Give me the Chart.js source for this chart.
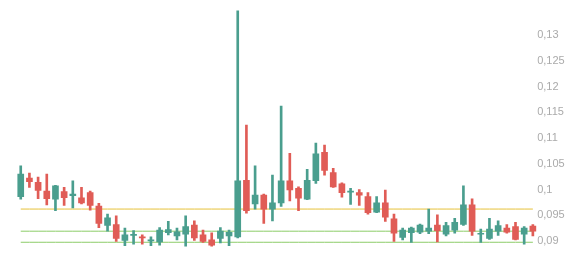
<!DOCTYPE html>
<html>
<head>
<meta charset="utf-8">
<script src="https://cdn.jsdelivr.net/npm/chart.js@4/dist/chart.umd.min.js"></script>
<style>
    html, body { margin: 0; padding: 0; background: #fff; }
    #wrap { width: 584px; height: 258px; }
</style>
</head>
<body>
<div id="wrap"><canvas id="candleChart" width="584" height="258"></canvas></div>
<script>
// OHLC values, one entry per candle
const opens  = [0.0986, 0.1022, 0.1014, 0.0997, 0.0981, 0.0996, 0.0988, 0.0984, 0.0994, 0.0968,
                0.0930, 0.0932, 0.0901, 0.0911, 0.0908, 0.0900, 0.0898, 0.0916, 0.0910, 0.0913,
                0.0931, 0.0912, 0.0902, 0.0905, 0.0910, 0.0908, 0.1018, 0.0972, 0.0989, 0.0962,
                0.0974, 0.1017, 0.1002, 0.0981, 0.1017, 0.1072, 0.1033, 0.1011, 0.0995, 0.0994,
                0.0986, 0.0956, 0.0974, 0.0943, 0.0907, 0.0916, 0.0917, 0.0919, 0.0931, 0.0913,
                0.0921, 0.0932, 0.0970, 0.0913, 0.0905, 0.0919, 0.0925, 0.0928, 0.0913, 0.0929];
const highs  = [0.1046, 0.1032, 0.1024, 0.1030, 0.1008, 0.1004, 0.1017, 0.1004, 0.0997, 0.0973,
                0.0952, 0.0949, 0.0925, 0.0920, 0.0912, 0.0908, 0.0926, 0.0938, 0.0925, 0.0949,
                0.0939, 0.0921, 0.0916, 0.0926, 0.0921, 0.1347, 0.1125, 0.1046, 0.0991, 0.1028,
                0.1162, 0.1070, 0.1005, 0.1039, 0.1090, 0.1086, 0.1041, 0.1013, 0.1002, 0.1000,
                0.0994, 0.0986, 0.0999, 0.0952, 0.0925, 0.0927, 0.0933, 0.0962, 0.0951, 0.0936,
                0.0944, 0.1007, 0.0982, 0.0923, 0.0944, 0.0939, 0.0932, 0.0936, 0.0928, 0.0932];
const lows   = [0.0981, 0.1004, 0.0982, 0.0970, 0.0959, 0.0969, 0.0964, 0.0972, 0.0960, 0.0926,
                0.0919, 0.0899, 0.0891, 0.0894, 0.0894, 0.0891, 0.0892, 0.0912, 0.0902, 0.0890,
                0.0901, 0.0897, 0.0890, 0.0896, 0.0891, 0.0906, 0.0954, 0.0962, 0.0934, 0.0939,
                0.0967, 0.0978, 0.0959, 0.0980, 0.1012, 0.1028, 0.1004, 0.0985, 0.0971, 0.0969,
                0.0952, 0.0955, 0.0938, 0.0899, 0.0902, 0.0897, 0.0914, 0.0914, 0.0898, 0.0910,
                0.0915, 0.0930, 0.0911, 0.0897, 0.0903, 0.0911, 0.0915, 0.0902, 0.0894, 0.0910];
const closes = [0.1030, 0.1015, 0.0998, 0.0982, 0.1007, 0.0984, 0.0991, 0.0974, 0.0969, 0.0934,
                0.0945, 0.0905, 0.0912, 0.0913, 0.0906, 0.0902, 0.0921, 0.0922, 0.0918, 0.0928,
                0.0906, 0.0899, 0.0892, 0.0919, 0.0917, 0.1017, 0.0959, 0.0989, 0.0962, 0.0974,
                0.1017, 0.0999, 0.0983, 0.1018, 0.1069, 0.1037, 0.1005, 0.0994, 0.0997, 0.0989,
                0.0955, 0.0974, 0.0946, 0.0915, 0.0921, 0.0925, 0.0931, 0.0925, 0.0920, 0.0930,
                0.0936, 0.0970, 0.0919, 0.0915, 0.0923, 0.0930, 0.0917, 0.0903, 0.0925, 0.0919];

// horizontal levels: yellow one, then two green ones
const levels = [0.0962, 0.0919, 0.08975];
const levelColors = ['#e6c23a', '#8ccc68', '#8ccc68'];

const tickValues = [0.09, 0.095, 0.1, 0.105, 0.11, 0.115, 0.12, 0.125, 0.13];

const categories = opens.map((_, i) => String(i + 1));

const UP = '#4a9e8e';
const DOWN = '#e05c56';

function candleColor(ctx) {
    const i = ctx.dataIndex;
    return closes[i] >= opens[i] ? UP : DOWN;
}

const levelSets = levels.map((lv, k) => ({
    type: 'line',
    data: categories.map(() => lv),
    borderColor: levelColors[k],
    borderWidth: 1,
    pointRadius: 0,
    fill: false,
    order: 3
}));

const ctx = document.getElementById('candleChart').getContext('2d');
new Chart(ctx, {
    type: 'bar',
    data: {
        labels: categories,
        datasets: [
            ...levelSets,
            {
                // wicks
                data: categories.map((_, i) => [lows[i], highs[i]]),
                backgroundColor: candleColor,
                barThickness: 2,
                grouped: false,
                order: 2
            },
            {
                // bodies
                data: categories.map((_, i) => [opens[i], closes[i]]),
                backgroundColor: candleColor,
                barThickness: 6,
                grouped: false,
                order: 1
            }
        ]
    },
    options: {
        responsive: false,
        animation: false,
        layout: { padding: { left: 16.4, top: 9.25, bottom: 9.3, right: 0 } },
        scales: {
            x: { display: false, offset: true },
            y: {
                position: 'right',
                min: 0.0885,
                max: 0.135,
                grid: { display: false },
                border: { display: false },
                afterFit: scale => { scale.width = 46.8; },
                afterBuildTicks: scale => {
                    scale.ticks = tickValues.map(v => ({ value: v }));
                },
                ticks: {
                    padding: -8,
                    color: '#aaaaaa',
                    font: { family: 'Liberation Sans, Arial, sans-serif', size: 11 },
                    callback: v => Number(v.toFixed(3)).toString().replace('.', ',')
                }
            }
        },
        plugins: {
            legend: { display: false },
            tooltip: { enabled: false }
        }
    }
});
</script>
</body>
</html>
